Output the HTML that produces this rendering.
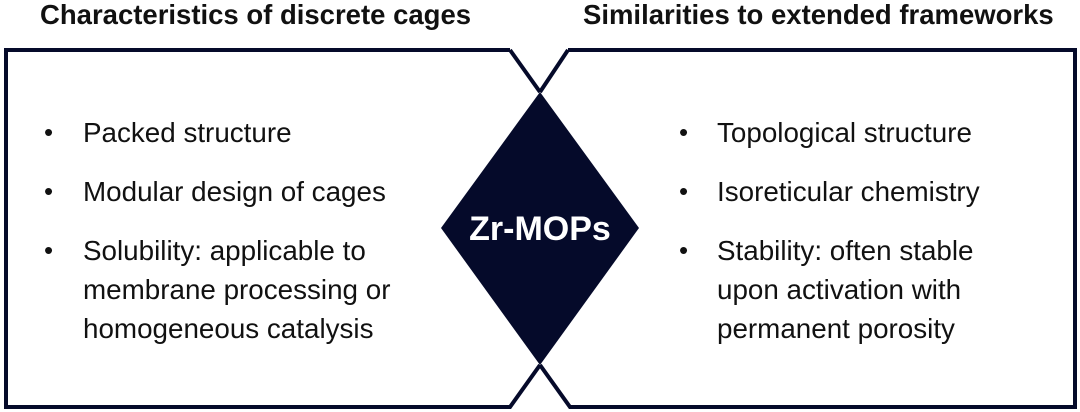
<!DOCTYPE html>
<html><head><style>
body{margin:0;width:1080px;height:412px;background:#fff;overflow:hidden;font-family:"Liberation Sans",Arial,sans-serif;position:relative}
.h{position:absolute;top:-1px;font-weight:bold;font-size:27.5px;color:#111}
.t{position:absolute;font-size:27.8px;color:#111;line-height:39px}
.b{position:absolute;font-size:26px;color:#111;line-height:39px}
</style></head><body>
<svg width="1080" height="412" style="position:absolute;left:0;top:0">
<g fill="none" stroke="#050a2a" stroke-width="4" stroke-linejoin="miter">
<path d="M510,50 L6,50 L6,407 L510,407 L540,365"/>
<path d="M510,50 L540,92"/>
<path d="M568,50 L1075,50 L1075,407 L570,407 L540,365"/>
<path d="M568,50 L540,92"/>
</g>
<polygon points="540,92 639,228 540,365 441,228" fill="#050a2a"/>
<text x="540" y="240" font-family="Liberation Sans,Arial,sans-serif" font-weight="bold" font-size="34" fill="#fff" text-anchor="middle">Zr-MOPs</text>
</svg>
<div class="h" style="left:40px">Characteristics of discrete cages</div>
<div class="h" style="left:583px">Similarities to extended frameworks</div>
<div class="b" style="left:44px;top:113px">•</div>
<div class="b" style="left:44px;top:172px">•</div>
<div class="b" style="left:44px;top:231px">•</div>
<div class="t" style="left:83px;top:113px">Packed structure</div>
<div class="t" style="left:83px;top:172px">Modular design of cages</div>
<div class="t" style="left:83px;top:231px">Solubility: applicable to<br>membrane processing or<br>homogeneous catalysis</div>
<div class="b" style="left:679px;top:113px">•</div>
<div class="b" style="left:679px;top:172px">•</div>
<div class="b" style="left:679px;top:231px">•</div>
<div class="t" style="left:717px;top:113px">Topological structure</div>
<div class="t" style="left:717px;top:172px">Isoreticular chemistry</div>
<div class="t" style="left:717px;top:231px">Stability: often stable<br>upon activation with<br>permanent porosity</div>
</body></html>
